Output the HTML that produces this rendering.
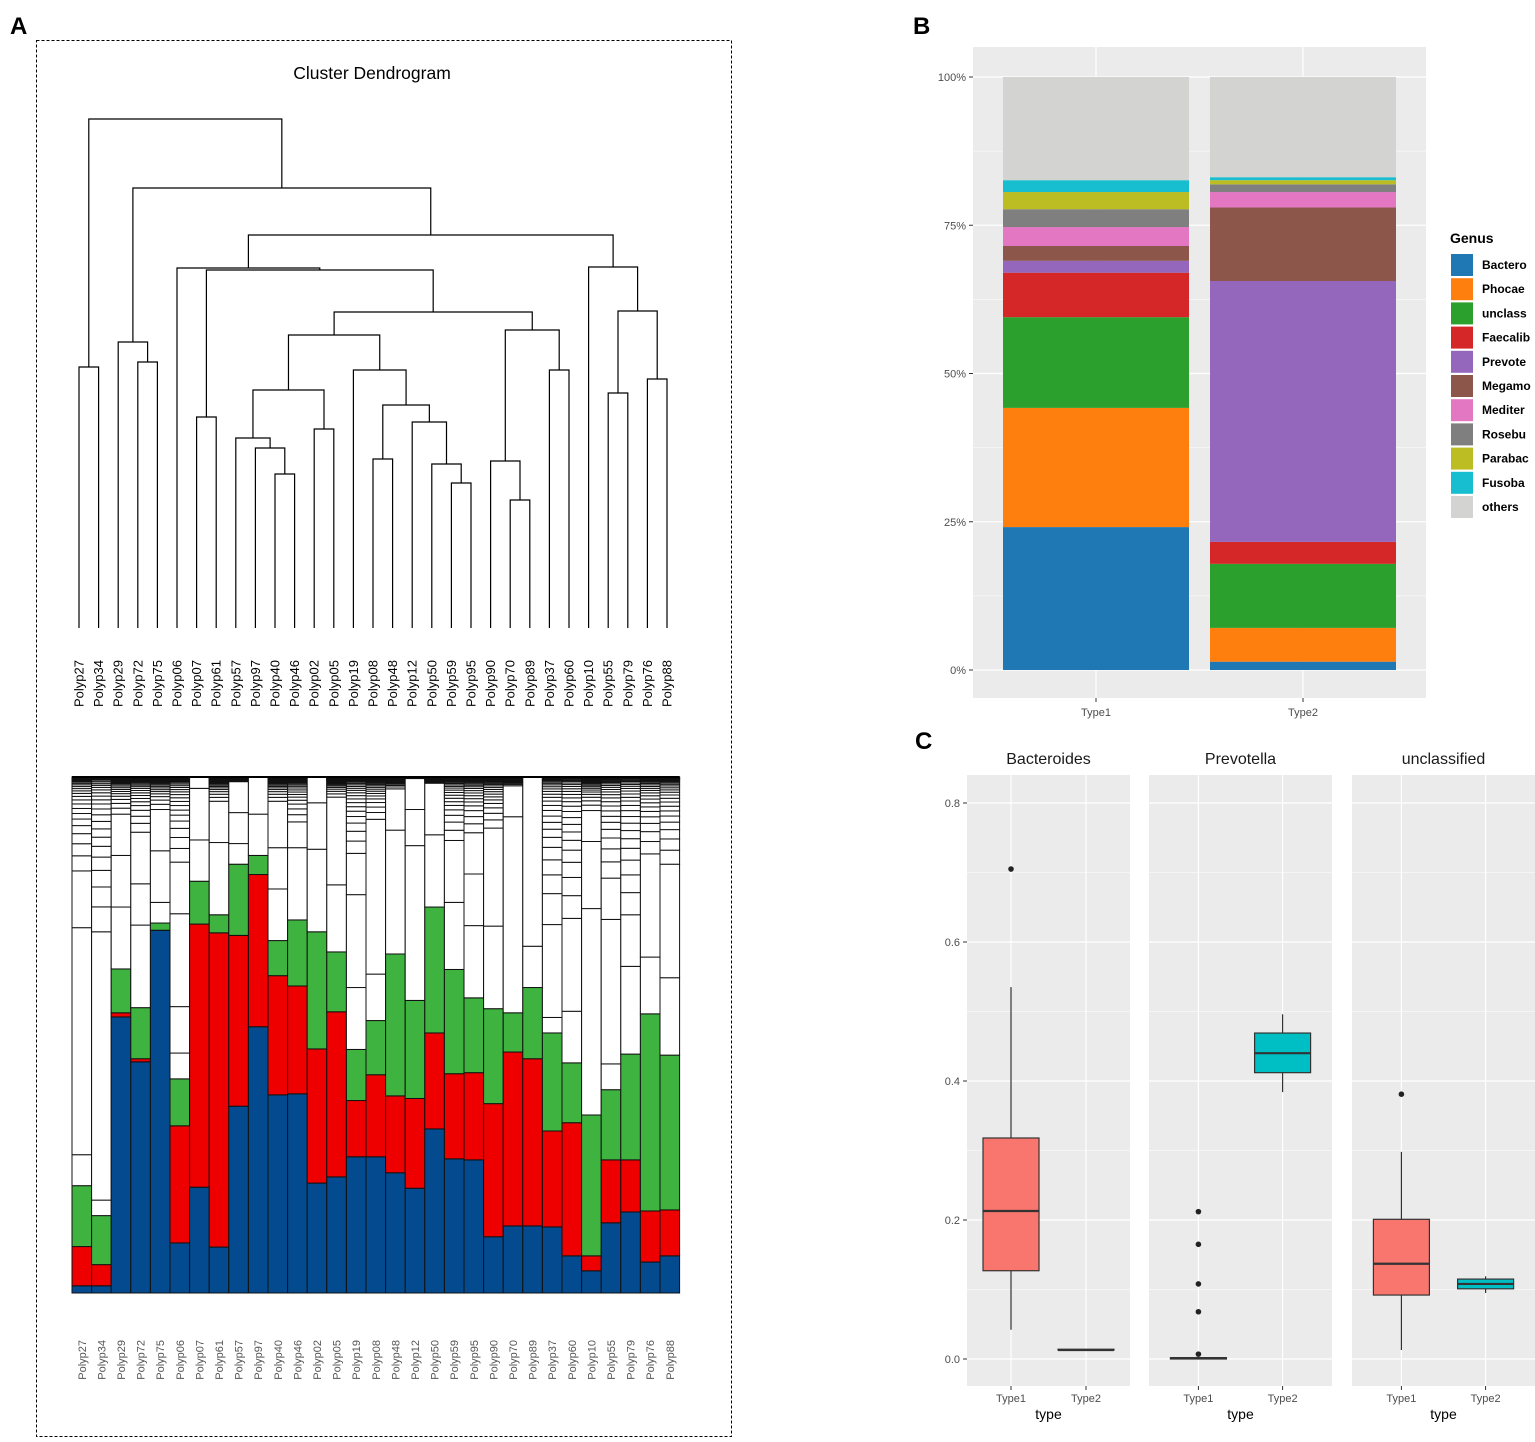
<!DOCTYPE html>
<html><head><meta charset="utf-8"><style>
body{margin:0;background:#fff}
svg{display:block;font-family:"Liberation Sans",Arial,sans-serif}
</style></head><body>
<svg id="fig" width="1535" height="1442" viewBox="0 0 1535 1442" xmlns="http://www.w3.org/2000/svg">
<rect x="0" y="0" width="1535" height="1442" fill="#fff"/>
<text x="10" y="34" font-size="24" font-weight="bold">A</text>
<text x="913" y="34" font-size="24" font-weight="bold">B</text>
<text x="915" y="749" font-size="24" font-weight="bold">C</text>
<rect x="36.5" y="40.5" width="695" height="1396" fill="none" stroke="#000" stroke-dasharray="3,2"/>
<text x="372" y="79" font-size="17.5" text-anchor="middle">Cluster Dendrogram</text>
<g id="dendro"></g>
<g id="stack"></g>
<g id="panelB"></g>
<g id="panelC"></g>
</svg>
<script>
// ---------- Panel A data ----------
const leaves = ["Polyp27","Polyp34","Polyp29","Polyp72","Polyp75","Polyp06","Polyp07","Polyp61","Polyp57","Polyp97","Polyp40","Polyp46","Polyp02","Polyp05","Polyp19","Polyp08","Polyp48","Polyp12","Polyp50","Polyp59","Polyp95","Polyp90","Polyp70","Polyp89","Polyp37","Polyp60","Polyp10","Polyp55","Polyp79","Polyp76","Polyp88"];
// tree: [left, right, height]
const tree = [["Polyp27","Polyp34",2.61],
 [["Polyp29",["Polyp72","Polyp75",2.66],2.86],
  [["Polyp06",[["Polyp07","Polyp61",2.11],
     [[[["Polyp57",["Polyp97",["Polyp40","Polyp46",1.54],1.80],1.90],["Polyp02","Polyp05",1.99],2.38],
       ["Polyp19",[["Polyp08","Polyp48",1.69],["Polyp12",["Polyp50",["Polyp59","Polyp95",1.45],1.64],2.06],2.23],2.58],2.93],
      [["Polyp90",["Polyp70","Polyp89",1.28],1.67],["Polyp37","Polyp60",2.58],2.98],3.16],3.58],3.60],
   ["Polyp10",[["Polyp55","Polyp79",2.35],["Polyp76","Polyp88",2.49],3.17],3.61],3.93],4.40],5.09];
const blueVals  = [1.4,1.4,53.5,44.8,70.3,9.7,20.5,8.9,36.2,51.6,38.4,38.6,21.3,22.5,26.4,26.4,23.3,20.3,31.8,26.0,25.8,10.9,13.0,13.0,12.8,7.2,4.3,13.6,15.7,6.0,7.2];
const redVals   = [7.6,4.1,0.8,0.6,0,22.7,51.0,60.9,33.1,29.5,23.1,20.9,26.0,32.0,10.9,15.9,14.9,17.4,18.6,16.5,16.9,25.8,33.7,32.4,18.6,25.8,2.9,12.2,10.1,9.9,8.9];
const greenVals = [11.8,9.5,8.5,9.9,1.4,9.1,8.3,3.5,13.8,3.7,6.8,12.8,22.7,11.6,9.9,10.5,27.5,19.0,24.4,20.2,14.5,18.4,7.6,13.8,19.0,11.6,27.3,13.6,20.5,38.2,30.0];
const otherMajor = [[6,44,11],[3,52],[12,10,8],[16,8,10],[4,10,8],[5,9,18,10],[8,10,6],[14,8],[4,6,6],[8,10],[10,8,9],[14,5],[16,9,6],[13,17],[12,18,8],[9,30],[24,8],[30,7,6],[14,10],[13,12],[14,10,8],[16,19],[38,6],[8,34],[3,18,6],[10,18],[40,13,6],[5,28,8],[17,10],[11,20],[15,22]];
const minorShares = [3,2.4,2,1.6,1.3,1.1,1,0.9,0.8,0.7,0.6,0.5,0.45,0.4,0.35,0.3,0.25,0.2,0.2,0.15,0.15,0.1,0.1,0.1];

// ---------- Panel B data ----------
const genera = ["Bacteroides","Phocaeicola","unclassified","Faecalibacterium","Prevotella","Megamonas","Mediterraneibacter","Roseburia","Parabacteroides","Fusobacterium","others"];
const genusLabels = ["Bactero","Phocae","unclass","Faecalib","Prevote","Megamo","Mediter","Rosebu","Parabac","Fusoba","others"];
const typeCats = ["Type1","Type2"];
const type1Vals = [24.1,20.1,15.3,7.5,2.0,2.5,3.2,3.0,2.9,2.0,17.4];
const type2Vals = [1.4,5.7,10.8,3.7,44.0,12.4,2.6,1.3,0.7,0.5,16.9];
const bTicks = [0,25,50,75,100];

// ---------- Panel C data ----------
const facets = ["Bacteroides","Prevotella","unclassified"];
// [lowerWhisker, Q1, median, Q3, upperWhisker]
const boxType1 = [[0.042,0.127,0.213,0.318,0.535],[0,0,0.001,0.002,0.003],[0.013,0.092,0.137,0.201,0.298]];
const boxType2 = [[0.012,0.013,0.013,0.014,0.014],[0.384,0.412,0.440,0.469,0.496],[0.095,0.101,0.108,0.115,0.119]];
const outType1 = [[0.705],[0.212,0.165,0.108,0.068,0.007],[0.381]];
const outType2 = [[],[],[]];
const cTicks = [0,0.2,0.4,0.6,0.8];

const NS="http://www.w3.org/2000/svg";
function mk(tag, attrs, parent){const e=document.createElementNS(NS,tag);for(const k in attrs)e.setAttribute(k,attrs[k]);parent.appendChild(e);return e;}

// ---------- Dendrogram ----------
(function(){
 const g=document.getElementById('dendro');
 const lx=i=>79+i*19.6, hy=h=>628-h*100;
 function draw(n){
  if(typeof n==="string"){return {x:lx(leaves.indexOf(n)),y:628};}
  const a=draw(n[0]), b=draw(n[1]), y=hy(n[2]);
  const p=mk('path',{d:`M${a.x},${a.y}V${y}H${b.x}V${b.y}`,fill:'none',stroke:'#000','stroke-width':1.2},g);
  
  
  return {x:(a.x+b.x)/2,y:y};
 }
 draw(tree);
 leaves.forEach((s,i)=>{
  const t=mk('text',{transform:`translate(${lx(i)+4.5},660) rotate(-90)`,'font-size':13,'text-anchor':'end'},g);
  t.textContent=s;
  
  
 });
})();

// ---------- Sample stacked bars ----------
(function(){
 const g=document.getElementById('stack');
 const x0=72,w=19.6,base=1293,H=516;
 const y=v=>base-v/100*H;
 leaves.forEach((s,i)=>{
  const x=x0+i*w;
  let cum=0;
  const seg=(v,fill,name)=>{
   if(v<=0)return;
   const v2=Math.min(v,100-cum); if(v2<=0)return;
   const r=mk('rect',{x:x,y:y(cum+v2),width:w,height:v2/100*H,fill:fill,stroke:'#111','stroke-width':1},g);
   
   
   cum+=v2;
  };
  seg(blueVals[i],'#034A8E','bar-bacteroides');
  seg(redVals[i],'#EE0000','bar-faecalibacterium');
  seg(greenVals[i],'#3FB33F','bar-unclassified');
  otherMajor[i].forEach(v=>seg(v,'#fff','bar-other-taxon'));
  const rem=100-cum, tot=minorShares.reduce((a,b)=>a+b,0);
  minorShares.forEach(v=>seg(v/tot*rem,'#fff','bar-minor-taxon'));
  const t=mk('text',{transform:`translate(${x+w/2+4},1340) rotate(-90)`,'font-size':11,'text-anchor':'end',fill:'#555'},g);
  t.textContent=s;
  
  
 });
 const top=mk('line',{x1:x0,x2:x0+31*w,y1:777,y2:777,stroke:'#000','stroke-width':2},g);
 
 
})();

// ---------- Panel B ----------
(function(){
 const g=document.getElementById('panelB');
 const colors=["#1f77b4","#ff7f0e","#2ca02c","#d62728","#9467bd","#8c564b","#e377c2","#7f7f7f","#bcbd22","#17becf","#d3d3d1"];
 const bg=mk('rect',{x:973,y:47,width:453,height:651,fill:'#EBEBEB'},g);
 
 
 const y=v=>670-v/100*593;
 for(let v=12.5;v<100;v+=25){const l=mk('line',{x1:973,x2:1426,y1:y(v),y2:y(v),stroke:'#fff','stroke-width':0.6},g);}
 bTicks.forEach(v=>{
  const l=mk('line',{x1:973,x2:1426,y1:y(v),y2:y(v),stroke:'#fff','stroke-width':1.2},g);
  
  
  const tk=mk('line',{x1:969,x2:973,y1:y(v),y2:y(v),stroke:'#333'},g);
  
  
  const t=mk('text',{x:966,y:y(v)+4,'font-size':11,'text-anchor':'end',fill:'#4d4d4d'},g);
  t.textContent=v+'%';
  
  
 });
 const cx=[1096,1303];
 [type1Vals,type2Vals].forEach((vals,k)=>{
  const l=mk('line',{x1:cx[k],x2:cx[k],y1:47,y2:698,stroke:'#fff','stroke-width':1.2},g);
  
  
  let cum=0;
  vals.forEach((v,j)=>{
   const r=mk('rect',{x:cx[k]-93,y:y(cum+v),width:186,height:v/100*593,fill:colors[j]},g);
   
   
   cum+=v;
  });
  const tk=mk('line',{x1:cx[k],x2:cx[k],y1:698,y2:702,stroke:'#333'},g);
  
  
  const t=mk('text',{x:cx[k],y:716,'font-size':11,'text-anchor':'middle',fill:'#4d4d4d'},g);
  t.textContent=typeCats[k];
  
  
 });
 const lt=mk('text',{x:1450,y:243,'font-size':14,'font-weight':'bold'},g);
 lt.textContent='Genus';
 
 
 genusLabels.forEach((s,j)=>{
  const yy=254+j*24.2;
  const r=mk('rect',{x:1451,y:yy,width:22,height:22,fill:colors[j]},g);
  
  
  const t=mk('text',{x:1482,y:yy+15,'font-size':12,'font-weight':'bold'},g);
  t.textContent=s;
  
  
 });
})();

// ---------- Panel C ----------
(function(){
 const g=document.getElementById('panelC');
 const px=[967,1149,1352], pw=[163,183,183];
 const y=v=>1359-v*695;
 cTicks.forEach(v=>{
  const tk=mk('line',{x1:963,x2:967,y1:y(v),y2:y(v),stroke:'#333'},g);
  
  
  const t=mk('text',{x:960,y:y(v)+4,'font-size':11,'text-anchor':'end',fill:'#4d4d4d'},g);
  t.textContent=v.toFixed(1);
  
  
 });
 facets.forEach((f,k)=>{
  const x0=px[k],w=pw[k];
  const bg=mk('rect',{x:x0,y:775,width:w,height:611,fill:'#EBEBEB'},g);
  
  
  for(let v=0.1;v<0.85;v+=0.2){const l=mk('line',{x1:x0,x2:x0+w,y1:y(v),y2:y(v),stroke:'#fff','stroke-width':0.6},g);}
  cTicks.forEach(v=>{const l=mk('line',{x1:x0,x2:x0+w,y1:y(v),y2:y(v),stroke:'#fff','stroke-width':1.2},g);});
  const st=mk('text',{x:x0+w/2,y:764,'font-size':16,'text-anchor':'middle',fill:'#1a1a1a'},g);
  st.textContent=f;
  
  
  const cx=[x0+w*0.27,x0+w*0.73];
  const boxes=[boxType1[k],boxType2[k]], outs=[outType1[k],outType2[k]], fills=['#F8766D','#00BFC4'];
  cx.forEach((c,j)=>{
   const l=mk('line',{x1:c,x2:c,y1:775,y2:1386,stroke:'#fff','stroke-width':1.2},g);
   
   
   const b=boxes[j], hw=28;
   const wl=mk('line',{x1:c,x2:c,y1:y(b[0]),y2:y(b[4]),stroke:'#333','stroke-width':1.2},g);
   
   
   const r=mk('rect',{x:c-hw,y:y(b[3]),width:2*hw,height:Math.max(y(b[1])-y(b[3]),0.5),fill:fills[j],stroke:'#333','stroke-width':1.2},g);
   
   
   const m=mk('line',{x1:c-hw,x2:c+hw,y1:y(b[2]),y2:y(b[2]),stroke:'#333','stroke-width':2.2},g);
   
   
   outs[j].forEach(v=>{
    const o=mk('circle',{cx:c,cy:y(v),r:2.8,fill:'#222'},g);
    
    
   });
   const tk=mk('line',{x1:c,x2:c,y1:1386,y2:1390,stroke:'#333'},g);
   
   
   const t=mk('text',{x:c,y:1402,'font-size':11,'text-anchor':'middle',fill:'#4d4d4d'},g);
   t.textContent=typeCats[j];
   
   
  });
  const xt=mk('text',{x:x0+w/2,y:1419,'font-size':14,'text-anchor':'middle'},g);
  xt.textContent='type';
  
  
 });
})();
</script>
</body></html>
